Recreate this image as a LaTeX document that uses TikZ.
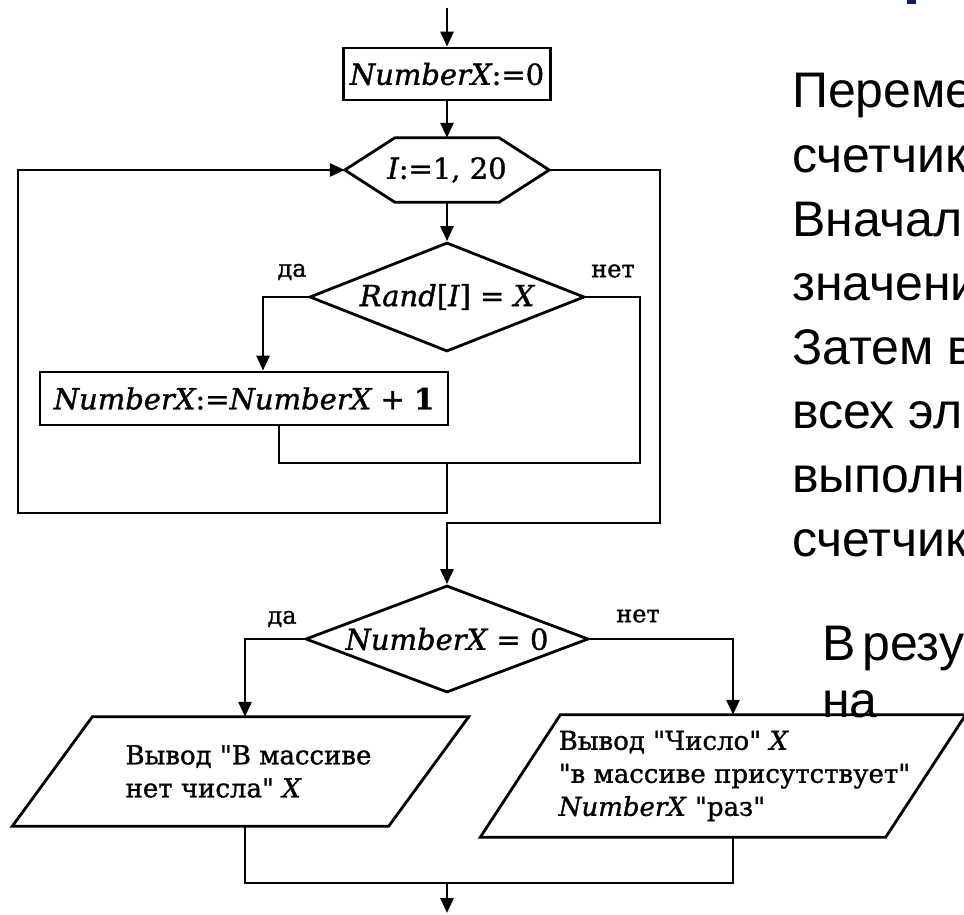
\documentclass[tikz,border=0pt]{standalone}
\usepackage{fontspec}
\usetikzlibrary{arrows.meta,shapes.geometric}
\newfontfamily\dvs{DejaVu Serif}[FakeBold=1.2, ItalicFeatures={FakeBold=1.2}]
\newfontfamily\lsans{Liberation Sans}
\definecolor{navy}{RGB}{10,32,96}
\begin{document}
\begin{tikzpicture}[x=1pt,y=-1pt,
  ln/.style={line width=2.8pt},
  arr/.style={ln,-{Triangle[length=15pt,width=13pt]}},
  fc/.style={font=\dvs\fontsize{29}{34}\selectfont, inner sep=0pt},
  box/.style={fc,draw,ln,rectangle},
  dia/.style={fc,draw,ln,diamond,shape aspect=2.6},
  io/.style={font=\dvs\fontsize{26}{33}\selectfont, inner sep=0pt, align=left},
  lab/.style={font=\dvs\fontsize{24}{26}\selectfont, inner sep=0pt},
  rt/.style={font=\lsans\fontsize{50}{60}\selectfont, inner sep=0pt, anchor=base west}]
\useasboundingbox (0,0) rectangle (964,915);
\clip (0,0) rectangle (964,915);

% flowchart nodes
\coordinate (start) at (447,8);
\node[box, minimum width=207pt, minimum height=52pt] (b1) at (447,74) {\itshape NumberX\upshape:=0};
\node[fc, minimum width=204pt, minimum height=64pt] (hex) at (447,170) {\itshape I\upshape:=1, 20};
\draw[ln] (hex.west) -- ([xshift=50pt]hex.north west) -- ([xshift=-50pt]hex.north east) -- (hex.east) -- ([xshift=-50pt]hex.south east) -- ([xshift=50pt]hex.south west) -- cycle;
\node[dia, minimum width=275pt, minimum height=109pt] (d1) at (447,297) {{\itshape Rand}[{\itshape I}] = {\itshape X}};
\node[box, minimum width=408pt, minimum height=53pt] (b2) at (244,398.5) {{\itshape NumberX}:={\itshape NumberX} + \textbf{1}};
\node[dia, minimum width=283pt, minimum height=107pt] (d2) at (447,639) {{\itshape NumberX} = 0};
\node[io, minimum width=376pt, minimum height=109pt] (oL) at (248.5,771.5) {Вывод "В массиве\\нет числа" \textit{X}};
\draw[ln] ([xshift=32pt]oL.north west) -- ([xshift=32pt]oL.north east) -- ([xshift=-48pt]oL.south east) -- ([xshift=-48pt]oL.south west) -- cycle;
\node[io, minimum width=405pt, minimum height=122pt] (oR) at (734.5,776) {Вывод "Число" \textit{X}\\"в массиве присутствует"\\\textit{NumberX} "раз"};
\draw[ln] ([xshift=28.5pt]oR.north west) -- ([xshift=28.5pt]oR.north east) -- ([xshift=-51.5pt]oR.south east) -- ([xshift=-51.5pt]oR.south west) -- cycle;

% labels
\node[lab] (l1) at (292,272) {да};
\node[lab] (l2) at (613,271) {нет};
\node[lab] (l3) at (282,619) {да};
\node[lab] (l4) at (638,616) {нет};

% connectors
\draw[arr] (start) -- (b1.north);
\draw[arr] (b1.south) -- (hex.north);
\draw[arr] (hex.south) -- (d1.north);
\draw[arr] (d1.west) -| ([xshift=19pt]b2.north);
\coordinate (j1) at (640,463);
\draw[ln] (d1.east) -| (j1) -| ([xshift=35pt]b2.south);
\coordinate (j2) at (447,463);
\coordinate (lb) at (18,513);
\draw[arr] (j2) |- (lb) |- (hex.west);
\coordinate (rb) at (660,523);
\draw[arr] (hex.east) -| (rb) -| (d2.north);
\draw[arr] (d2.west) -| ([xshift=-3.5pt]oL.north);
\draw[arr] (d2.east) -| ([xshift=-1.5pt]oR.north);
\coordinate (m) at (447,883);
\draw[ln] ([xshift=-3.5pt]oL.south) |- (m) -| ([xshift=-1.5pt]oR.south);
\coordinate (end) at (447,913);
\draw[arr] (m) -- (end);

% right-hand text (cut by the picture edge, as in the reference)
\node[rt] (t1) at (792,108) {Переме};
\node[rt] (t2) at (792,172) {счетчик};
\node[rt] (t3) at (792,236) {Вначал};
\node[rt] (t4) at (792,300) {значени};
\node[rt] (t5) at (792,364) {Затем в};
\node[rt] (t6) at (792,428) {всех эл};
\node[rt] (t7) at (792,492) {выполн};
\node[rt] (t8) at (792,556) {счетчик};
\node[rt] (t9) at (822,660) {В};
\node[rt] (t9b) at (862,660) {резу};
\node[rt] (t10) at (822,717) {на};

\fill[navy] (907,0) rectangle (916,4);
\end{tikzpicture}
\end{document}
